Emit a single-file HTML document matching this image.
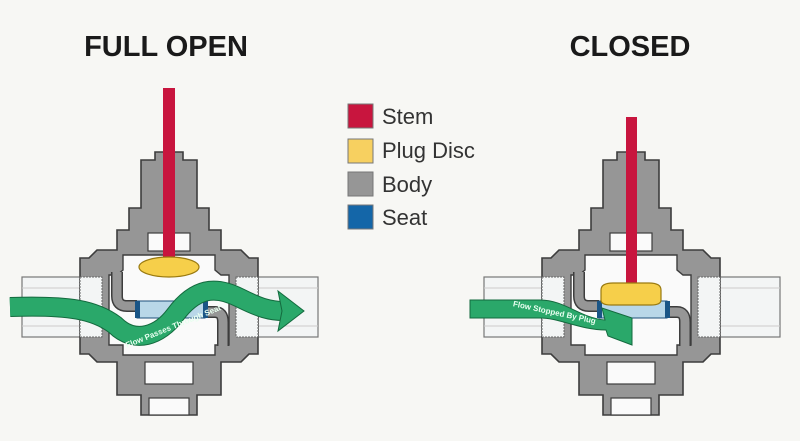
<!DOCTYPE html>
<html><head><style>
body{margin:0;background:#f7f7f4;}
svg{display:block}
</style></head><body>
<svg width="800" height="441" viewBox="0 0 800 441" xmlns="http://www.w3.org/2000/svg" font-family="Liberation Sans, sans-serif">
<defs>
<g id="body">
  <rect x="-147" y="277" width="296" height="60" fill="#f3f5f5" stroke="#777" stroke-width="1.2"/>
  <line x1="-147" y1="288" x2="149" y2="288" stroke="#ccc"/>
  <line x1="-147" y1="326" x2="149" y2="326" stroke="#ccc"/>
  <path d="M-14,152 H14 V160 H28 V208 H40 V230 H52 V250 H72 L80,258 H89 V354 H80 L72,362 H52 V395 H28 V415 H-28 V395 H-52 V362 H-72 L-80,354 H-89 V258 H-80 L-72,250 H-52 V230 H-40 V208 H-28 V160 H-14 Z" fill="#969696" stroke="#3d3d3d" stroke-width="1.6"/>
  <rect x="-89" y="277" width="22" height="60" fill="#f3f5f5" stroke="#666" stroke-width="1" stroke-dasharray="2,1"/>
  <rect x="67" y="277" width="22" height="60" fill="#f3f5f5" stroke="#666" stroke-width="1" stroke-dasharray="2,1"/>
  <rect x="-21" y="233" width="42" height="18" fill="#fafafa" stroke="#3d3d3d" stroke-width="1.2"/>
  <path d="M-46,255 H46 V270 L52,275 H60 V345 H46 V355 H-46 V345 H-60 V275 H-52 L-46,270 Z" fill="#fafafa" stroke="#3d3d3d" stroke-width="1.4"/>
  <rect x="-24" y="362" width="48" height="22" fill="#fafafa" stroke="#3d3d3d" stroke-width="1.2"/>
  <rect x="-20" y="398" width="40" height="17" fill="#fafafa" stroke="#3d3d3d" stroke-width="1.2"/>
  <path d="M-52,272 V296 Q-52,306 -42,306 H-32" fill="none" stroke="#3d3d3d" stroke-width="12"/>
  <path d="M-52,272 V296 Q-52,306 -42,306 H-32" fill="none" stroke="#969696" stroke-width="9"/>
  <path d="M34,312 H46 Q54,312 54,322 V346" fill="none" stroke="#3d3d3d" stroke-width="12"/>
  <path d="M34,312 H46 Q54,312 54,322 V346" fill="none" stroke="#969696" stroke-width="9"/>
  <rect x="-32" y="301" width="68" height="17" fill="#b9d7e8" stroke="#1d4f7a" stroke-width="1"/>
  <rect x="-34" y="301" width="5" height="17" fill="#1a5586"/>
  <rect x="34" y="301" width="5" height="17" fill="#1a5586"/>
</g>
</defs>
<text x="166" y="56" text-anchor="middle" font-size="29" font-weight="bold" fill="#1a1a1a">FULL OPEN</text>
<text x="630" y="56" text-anchor="middle" font-size="29" font-weight="bold" fill="#1a1a1a">CLOSED</text>

<g transform="translate(169,0)">
  <use href="#body"/>
  <rect x="-6" y="88" width="12" height="172" fill="#c8153e"/>
  <ellipse cx="0" cy="267" rx="30" ry="10" fill="#f6cf4a" stroke="#9a7a10" stroke-width="1.2"/>
</g>
<path d="M10,307 C70,305 95,310 115,325 C135,345 160,335 175,315 C195,288 215,285 240,298 C260,308 270,311 284,311" fill="none" stroke="#136a3e" stroke-width="20"/>
<path d="M10,307 C70,305 95,310 115,325 C135,345 160,335 175,315 C195,288 215,285 240,298 C260,308 270,311 284,311" fill="none" stroke="#2aa86a" stroke-width="18"/>
<polygon points="278,291 304,311 278,331 282,311" fill="#2aa86a" stroke="#136a3e" stroke-width="1"/>
<text x="122" y="338" font-size="8" fill="#e8fff0" font-weight="bold" transform="rotate(-22 150 330)">Flow Passes Through Seat</text>

<g transform="translate(631,0)">
  <use href="#body"/>
  <rect x="-5" y="117" width="11" height="172" fill="#c8153e"/>
  <path d="M-30,290 Q-30,283 -18,283 H18 Q30,283 30,290 V300 Q30,305 20,305 H-20 Q-30,305 -30,300 Z" fill="#f6cf4a" stroke="#9a7a10" stroke-width="1.2"/>
</g>
<path d="M470,300 H540 C565,300 580,318 605,320 L602,308 L632,318 L632,345 L608,336 L606,330 C580,330 560,318 540,318 H470 Z" fill="#2aa86a" stroke="#136a3e" stroke-width="1"/>
<text x="512" y="312" font-size="8" fill="#e8fff0" font-weight="bold" transform="rotate(12 540 312)">Flow Stopped By Plug</text>

<rect x="348" y="104" width="25" height="24" fill="#c8153e" stroke="#777" stroke-width="1"/>
<rect x="348" y="139" width="25" height="24" fill="#f7d060" stroke="#777" stroke-width="1"/>
<rect x="348" y="172" width="25" height="24" fill="#969696" stroke="#777" stroke-width="1"/>
<rect x="348" y="205" width="25" height="24" fill="#1466a8" stroke="#777" stroke-width="1"/>
<g font-size="22" fill="#333">
<text x="382" y="124">Stem</text>
<text x="382" y="158">Plug Disc</text>
<text x="382" y="192">Body</text>
<text x="382" y="225">Seat</text>
</g>
</svg>
</body></html>
